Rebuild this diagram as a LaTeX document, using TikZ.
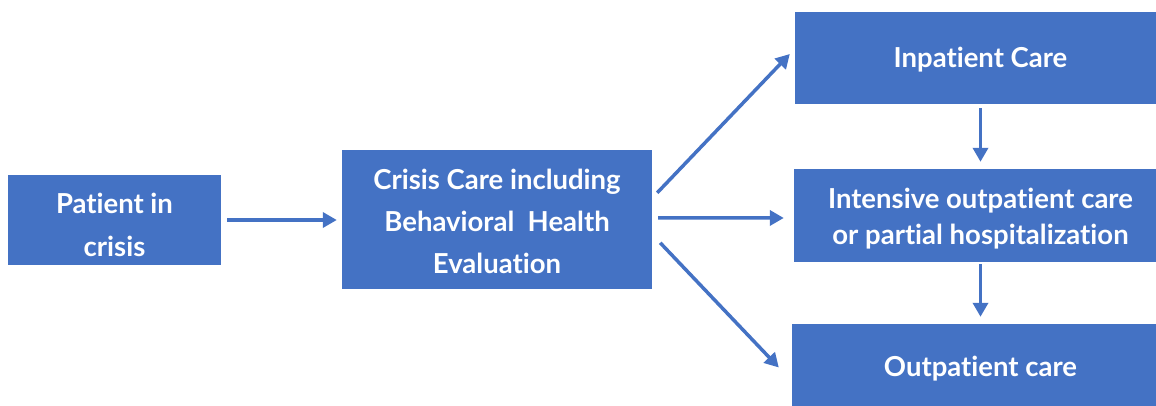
\documentclass[tikz,border=0pt]{standalone}
\usepackage{fontspec}
\setmainfont[Ligatures=NoCommon]{Lato}
\usetikzlibrary{arrows.meta}
\definecolor{boxblue}{HTML}{4472C4}
\begin{document}
\begin{tikzpicture}[x=1pt,y=-1pt,
  box/.style={fill=boxblue, draw=none, inner sep=0pt, anchor=center},
  lbl/.style={text=white, font=\bfseries\fontsize{27.5}{42}\selectfont, align=center, inner sep=0pt, anchor=center},
  arr/.style={draw=boxblue, line width=3.5pt, -{Triangle[length=14pt,width=15pt]}}]
\path[use as bounding box] (0,0) rectangle (1156,406);
\clip (0,0) rectangle (1156,406);
\node[box, minimum width=213pt, minimum height=90pt] (pat) at (114.5,220) {};
\node[box, minimum width=310pt, minimum height=139pt] (cri) at (497,219.5) {};
\node[box, minimum width=371pt, minimum height=92pt] (inp) at (980.5,58) {};
\node[box, minimum width=373pt, minimum height=93pt] (int) at (980.5,215.5) {};
\node[box, minimum width=377pt, minimum height=83pt] (out) at (980.5,365.5) {};
\node[lbl, font=\bfseries\fontsize{27.5}{43}\selectfont] (patT) at ([yshift=-5pt]pat.center) {Patient in\\crisis};
\node[lbl] (criT) at ([yshift=-2pt]cri.center) {Crisis Care including\\Behavioral\ \ Health\\Evaluation};
\node[lbl] (inpT) at ([yshift=-1.5pt]inp.center) {Inpatient Care};
\node[lbl, font=\bfseries\fontsize{27.5}{36}\selectfont] (intT) at ([yshift=-3pt]int.center) {Intensive outpatient care\\or partial hospitalization};
\node[lbl] (outT) at ([yshift=-3pt]out.center) {Outpatient care};
\draw[arr] ([xshift=6pt]pat.east) -- ([xshift=-5pt]pat.east -| cri.west);
\draw[arr] ([shift={(5,43)}]cri.north east) -- ([shift={(-5,-4)}]inp.west);
\draw[arr] ([shift={(6,68)}]cri.north east) -- ([shift={(-10,2.5)}]int.west);
\draw[arr] ([shift={(8,93)}]cri.north east) -- ([shift={(-13,2)}]out.west);
\draw[arr] ([yshift=-4pt]inp.south) -- ([yshift=7pt]int.north);
\draw[arr] ([yshift=-2pt]int.south) -- ([yshift=7pt]out.north);
\end{tikzpicture}
\end{document}
